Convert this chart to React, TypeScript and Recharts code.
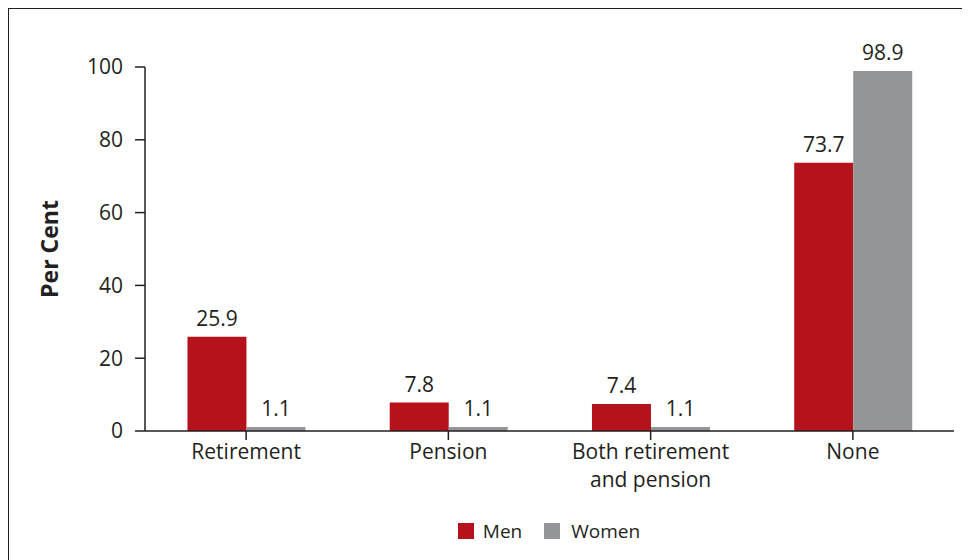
import React from 'react';
import { BarChart, Bar, XAxis, YAxis, Legend, LabelList } from 'recharts';

const categories = ['Retirement', 'Pension', 'Both retirement and pension', 'None'];
const menValues = [25.9, 7.8, 7.4, 73.7];
const womenValues = [1.1, 1.1, 1.1, 98.9];
const yTicks = [0, 20, 40, 60, 80, 100];

const data = categories.map((name, i) => ({ name, men: menValues[i], women: womenValues[i] }));

const RED = '#b5121b';
const GREY = '#939598';
const INK = '#231f20';
const FONT = '"Open Sans", "Noto Sans", sans-serif';

// greedy wrap by character count, good enough for these labels
const wrap = (s: string, max = 16) => {
  const lines: string[] = [];
  let cur = '';
  s.split(' ').forEach((w) => {
    const next = cur ? `${cur} ${w}` : w;
    if (next.length > max && cur) {
      lines.push(cur);
      cur = w;
    } else {
      cur = next;
    }
  });
  if (cur) lines.push(cur);
  return lines;
};

const CategoryTick = ({ x, y, payload }: any) => (
  <text x={x} y={y} textAnchor="middle" fill={INK} fontSize={21} fontFamily={FONT}>
    {wrap(payload.value).map((line, i) => (
      <tspan key={i} x={x} dy={i === 0 ? 17 : 28}>
        {line}
      </tspan>
    ))}
  </text>
);

const YLabel = ({ viewBox }: any) => {
  const cy = viewBox.y + viewBox.height / 2;
  return (
    <text
      x={40}
      y={cy}
      transform={`rotate(-90, 40, ${cy})`}
      textAnchor="middle"
      dominantBaseline="central"
      fill={INK}
      fontSize={23}
      fontWeight="bold"
      fontFamily={FONT}
    >
      Per Cent
    </text>
  );
};

const LegendContent = () => (
  <div style={{ display: 'flex', justifyContent: 'center', alignItems: 'center', fontFamily: FONT, fontSize: 19, color: INK }}>
    <span style={{ width: 16, height: 16, background: RED, display: 'inline-block', marginRight: 9 }} />
    <span style={{ marginRight: 22 }}>Men</span>
    <span style={{ width: 16, height: 16, background: GREY, display: 'inline-block', marginRight: 11 }} />
    <span>Women</span>
  </div>
);

export default function App() {
  return (
    <div style={{ width: 980, height: 580, border: `1.5px solid ${INK}`, overflow: 'hidden', background: '#fff' }}>
      <BarChart
        width={980}
        height={580}
        data={data}
        margin={{ top: 58, right: 35, left: 20, bottom: 62 }}
        barCategoryGap="21%"
        barGap={0}
      >
        <XAxis
          dataKey="name"
          tickSize={9}
          interval={0}
          height={70}
          tick={<CategoryTick />}
          stroke={INK}
          strokeWidth={1.5}
          tickLine={{ stroke: INK, strokeWidth: 1.5 }}
        />
        <YAxis
          width={116}
          domain={[0, 100]}
          ticks={yTicks}
          tickSize={10}
          tickMargin={12}
          stroke={INK}
          strokeWidth={1.5}
          tick={{ fill: INK, fontSize: 21, fontFamily: FONT }}
          label={<YLabel />}
        />
        <Legend content={<LegendContent />} wrapperStyle={{ top: 509, left: 40, width: 1000 }} />
        <Bar dataKey="men" name="Men" fill={RED} isAnimationActive={false}>
          <LabelList dataKey="men" position="top" offset={11} fill={INK} fontSize={21} fontFamily={FONT} />
        </Bar>
        <Bar dataKey="women" name="Women" fill={GREY} isAnimationActive={false}>
          <LabelList dataKey="women" position="top" offset={11} fill={INK} fontSize={21} fontFamily={FONT} />
        </Bar>
      </BarChart>
    </div>
  );
}
